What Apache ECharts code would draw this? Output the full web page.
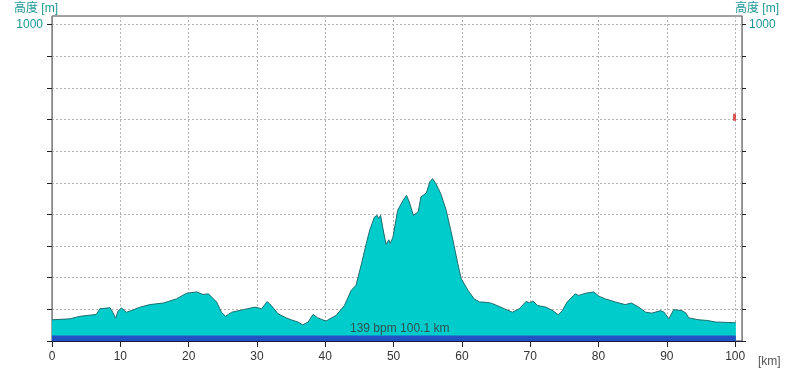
<!DOCTYPE html>
<html>
<head>
<meta charset="utf-8">
<script src="https://cdn.jsdelivr.net/npm/echarts@6/dist/echarts.min.js"></script>
<style>html,body{margin:0;padding:0;background:#fff}#c{width:800px;height:368px}</style>
</head>
<body>
<div id="c"></div>
<script>
var distanceKm = [0,2.6,4.1,6.5,7.0,8.5,8.9,9.3,9.7,10.2,10.9,11.6,12.9,14.3,16.3,18.2,19.7,19.9,21.2,22.1,22.9,24.1,24.8,25.4,26.3,28.0,29.7,30.7,31.5,32.1,33.1,34.3,35.0,36.0,36.7,37.5,38.2,38.9,40.1,41.6,42.8,43.8,44.5,45.3,46.0,46.5,47.2,47.6,47.8,48.1,48.4,48.9,49.3,49.5,49.9,50.6,51.4,51.9,52.3,52.9,53.6,54.0,54.8,55.3,55.7,56.2,56.9,57.7,58.6,59.4,59.9,60.9,61.8,62.6,63.1,64.0,64.5,66.2,67.4,68.4,69.4,69.9,70.4,71.1,72.3,73.3,74.1,74.7,75.4,76.6,77.1,78.1,79.3,80.1,81.0,82.5,83.9,84.8,85.9,86.9,87.8,89.1,89.6,90.3,91.0,92.2,92.8,93.2,94.7,95.9,97.1,99.8,100.1];
var elevationM = [67,70,78,84,102,105,91,72,96,104,91,96,107,115,120,133,151,157,155,147,149,123,91,78,91,99,107,102,125,112,86,73,67,60,51,60,84,73,63,81,112,160,176,244,308,350,392,397,387,397,360,305,320,308,328,413,445,460,439,397,408,455,468,503,513,497,466,413,328,244,197,160,133,123,123,121,118,102,91,102,125,121,126,112,107,96,83,96,123,149,144,151,155,141,133,123,115,120,107,91,88,96,91,70,99,96,88,73,67,65,60,58,58];
var xTickLabels = [0,10,20,30,40,50,60,70,80,90,100];
var yTickValues = [0,100,200,300,400,500,600,700,800,900,1000];
var yLabelValues = [1000];
var bandData = [[0,17],[100.1,17]];
var markerData = [[99.9,707]];
var infoText = '139 bpm 100.1 km';
var axisNameText = '高度 [m]';
var xUnitText = '[km]';

var profile = distanceKm.map(function(d,i){return [d, elevationM[i]];});
var FF = "'Liberation Sans','Noto Sans CJK JP',sans-serif";
var chart = echarts.init(document.getElementById('c'));
var dotted = {color:'#b4b4b4', width:1, type:[2,2]};
chart.setOption({
  animation:false,
  textStyle:{fontFamily:FF},
  grid:{left:52,right:58,top:16,bottom:27,show:true,borderColor:'#444',borderWidth:1,backgroundColor:'transparent'},
  xAxis:{
    type:'value',min:0,max:101,interval:10,
    axisLine:{show:true,onZero:false,lineStyle:{color:'#1a1a40',width:1}},
    axisTick:{show:true,length:6,lineStyle:{color:'#222'},customValues:xTickLabels},
    axisLabel:{color:'#333',fontSize:12,fontFamily:FF,margin:10,customValues:xTickLabels,
      formatter:function(v){return xTickLabels.indexOf(v)>=0?String(v):'';}},
    splitLine:{show:true,lineStyle:dotted}
  },
  yAxis:[{
    type:'value',min:0,max:1027,interval:100,position:'left',
    axisLine:{show:true,lineStyle:{color:'#8a8a8a',width:1}},
    axisTick:{show:true,length:5,lineStyle:{color:'#222'},customValues:yTickValues},
    axisLabel:{color:'#1e9696',fontSize:12,fontFamily:FF,margin:9,customValues:yLabelValues,
      formatter:function(v){return v===1000?'1000':'';}},
    splitLine:{show:true,lineStyle:dotted}
  },{
    type:'value',min:0,max:1027,interval:100,position:'right',
    axisLine:{show:true,lineStyle:{color:'#8a8a8a',width:1}},
    axisTick:{show:true,length:4,lineStyle:{color:'#222'},customValues:yTickValues},
    axisLabel:{color:'#1e9696',fontSize:12,fontFamily:FF,margin:7,customValues:yLabelValues,
      formatter:function(v){return v===1000?'1000':'';}},
    splitLine:{show:false}
  }],
  series:[{
    type:'line',data:profile,showSymbol:false,symbol:'none',silent:true,
    lineStyle:{color:'#1b6e6e',width:1},
    areaStyle:{color:'#00cccc',opacity:1},z:2
  },{
    type:'line',data:bandData,showSymbol:false,symbol:'none',silent:true,
    lineStyle:{width:0},areaStyle:{color:'#2352c4',opacity:1},z:3
  },{
    type:'scatter',data:markerData,symbol:'rect',symbolSize:[3,7],silent:true,
    itemStyle:{color:'#d83030'},z:4
  }],
  graphic:[
    {type:'text',left:14,top:3,style:{text:axisNameText,fill:'#1e9696',font:'12px '+FF}},
    {type:'text',left:735,top:3,style:{text:axisNameText,fill:'#1e9696',font:'12px '+FF}},
    {type:'text',left:758,top:356,style:{text:xUnitText,fill:'#555',font:'12px '+FF}},
    {type:'text',left:350,top:323,z:10,style:{text:infoText,fill:'#2f5050',font:'12px '+FF}}
  ]
});
</script>
</body>
</html>
